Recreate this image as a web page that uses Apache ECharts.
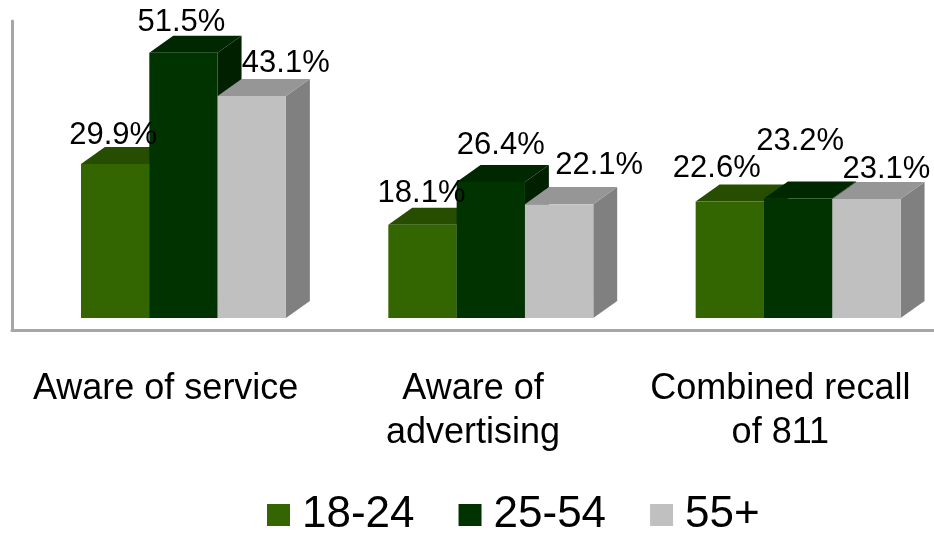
<!DOCTYPE html>
<html>
<head>
<meta charset="utf-8">
<script src="https://cdn.jsdelivr.net/npm/echarts@6/dist/echarts.min.js"></script>
<style>
  html, body { margin: 0; padding: 0; background: #ffffff; }
  #chart { width: 934px; height: 533px; }
</style>
</head>
<body>
<div id="chart"></div>
<script>
// Survey recall by age band
const categories = ['Aware of service', 'Aware of\nadvertising', 'Combined recall\nof 811'];
const ageBands = ['18-24', '25-54', '55+'];
const share18to24 = [29.9, 18.1, 22.6];
const share25to54 = [51.5, 26.4, 23.2];
const share55plus = [43.1, 22.1, 23.1];

// Face colours for each 3-D column: front, top, right side
const palette = [
  { front: '#336600', top: '#264d00', side: '#1f4200' },
  { front: '#003300', top: '#002800', side: '#002000' },
  { front: '#c0c0c0', top: '#969696', side: '#808080' }
];

// Small nudges for the value labels [dx, dy] per series / category
const labelNudge = [
  [[-2, 2], [-1, 0], [-13, -2]],
  [[-2, 1], [10, -6], [2, -26]],
  [[34, -2], [40, -8], [20, 1]]
];

const FONT = '"Liberation Sans", Arial, Helvetica, sans-serif';

function columnRenderer(s) {
  return function (params, api) {
    const i = api.value(0);
    const v = api.value(1);
    const base = api.coord([i, 0]);
    const top = api.coord([i, v]);
    const band = api.size([1, 0])[0];
    const w = band * 0.2223;
    const x0 = base[0] - band * 0.2755 + s * w;
    const x1 = x0 + w;
    const yb = base[1];
    const yt = top[1];
    const dx = w * 0.35;
    const dy = -w * 0.25;
    const col = palette[s];
    const nud = labelNudge[s][i];
    return {
      type: 'group',
      children: [
        {
          type: 'polygon',
          shape: { points: [[x1, yt], [x1 + dx, yt + dy], [x1 + dx, yb + dy], [x1, yb]] },
          style: { fill: col.side }
        },
        {
          type: 'polygon',
          shape: { points: [[x0, yt], [x0 + dx, yt + dy], [x1 + dx, yt + dy], [x1, yt]] },
          style: { fill: col.top }
        },
        {
          type: 'rect',
          shape: { x: x0, y: yt, width: w, height: yb - yt },
          style: { fill: col.front }
        },
        {
          type: 'text',
          x: x0 + w / 2 + nud[0],
          y: yt - 20 - 11 + nud[1],
          style: {
            text: v.toFixed(1) + '%',
            fill: '#000000',
            font: '31px ' + FONT,
            align: 'center',
            verticalAlign: 'middle'
          },
          z2: 10
        }
      ]
    };
  };
}

const seriesValues = [share18to24, share25to54, share55plus];

const chart = echarts.init(document.getElementById('chart'), null, { renderer: 'canvas' });

chart.setOption({
  animation: false,
  backgroundColor: '#ffffff',
  textStyle: { fontFamily: FONT },
  grid: [
    { left: 12, width: 927, top: 9, height: 309, containLabel: false },
    { left: 12, right: 0, top: 21, bottom: 202.5, containLabel: false }
  ],
  xAxis: [
    {
      type: 'category',
      gridIndex: 0,
      data: categories,
      boundaryGap: true,
      axisLine: { show: false },
      axisTick: { show: false },
      axisLabel: {
        show: true,
        interval: 0,
        margin: 49,
        color: '#000000',
        fontSize: 36,
        lineHeight: 44,
        fontFamily: FONT
      }
    },
    {
      type: 'value',
      gridIndex: 1,
      min: 0,
      max: 1,
      axisLine: { show: true, onZero: false, lineStyle: { color: '#a6a6a6', width: 3 } },
      axisTick: { show: false },
      axisLabel: { show: false },
      splitLine: { show: false }
    }
  ],
  yAxis: [
    {
      type: 'value',
      gridIndex: 0,
      min: 0,
      max: 60,
      show: false
    },
    {
      type: 'value',
      gridIndex: 1,
      min: 0,
      max: 1,
      axisLine: { show: true, onZero: false, lineStyle: { color: '#a6a6a6', width: 3 } },
      axisTick: { show: false },
      axisLabel: { show: false },
      splitLine: { show: false }
    }
  ],
  legend: {
    left: 262,
    top: 488,
    orient: 'horizontal',
    icon: 'rect',
    itemWidth: 23,
    itemHeight: 22,
    itemGap: 44,
    data: ageBands,
    textStyle: {
      fontSize: 44,
      color: '#000000',
      fontFamily: FONT,
      padding: [0, 0, 0, 7]
    }
  },
  series: seriesValues.map(function (vals, s) {
    return {
      type: 'custom',
      name: ageBands[s],
      xAxisIndex: 0,
      yAxisIndex: 0,
      itemStyle: { color: palette[s].front },
      encode: { x: 0, y: 1 },
      data: vals.map(function (v, i) { return [i, v]; }),
      renderItem: columnRenderer(s)
    };
  })
});
</script>
</body>
</html>
